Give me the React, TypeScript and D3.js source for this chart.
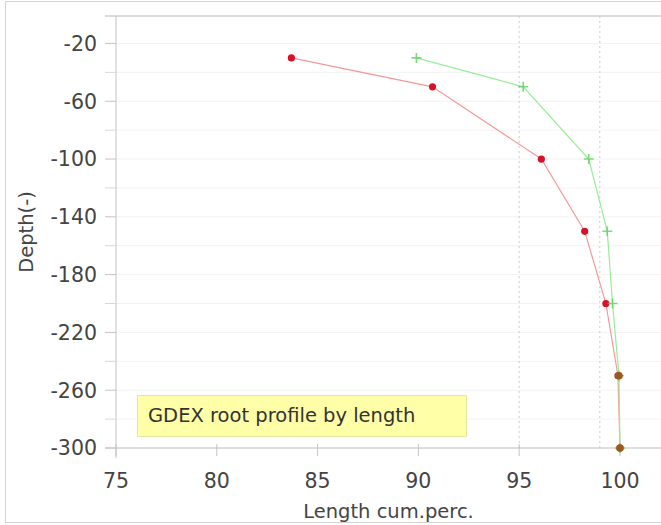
import React from "react";
import * as d3 from "d3";

const depths = [-30, -50, -100, -150, -200, -250, -300];
const seriesRed = [83.7, 90.7, 96.1, 98.25, 99.3, 99.9, 100];
const seriesGreen = [89.9, 95.2, 98.45, 99.37, 99.63, 99.95, 100];
const xTicks = [75, 80, 85, 90, 95, 100];
const yMajorTicks = [-20, -60, -100, -140, -180, -220, -260, -300];
const yMinorTicks = [-40, -80, -120, -160, -200, -240, -280];
const refLines = [95, 99];
const legendLabel = "GDEX root profile by length";
const xTitle = "Length cum.perc.";
const yTitle = "Depth(-)";

const W = 661;
const H = 525;
const FONT = "'DejaVu Sans', Verdana, sans-serif";

export default function App() {
  const x = d3.scaleLinear().domain([75, 102]).range([116, 660.3]);
  const y = d3.scaleLinear().domain([-300, -1]).range([448, 16]);
  const redData = depths.map((d, i) => ({ x: seriesRed[i], y: d }));
  const greenData = depths.map((d, i) => ({ x: seriesGreen[i], y: d }));
  const line = d3
    .line<{ x: number; y: number }>()
    .x((d) => x(d.x))
    .y((d) => y(d.y));
  const gridYs = d3.range(-300, 0, 20);
  const left = x.range()[0];
  const right = W;
  const top = y.range()[1];
  const bottom = y.range()[0];

  return (
    <svg
      width={W}
      height={H}
      style={{ position: "absolute", left: 0, top: 0, background: "#fff" }}
      fontFamily={FONT}
    >
      <rect x={0} y={0} width={W} height={H} fill="#fff" />
      <rect x={5.5} y={1.5} width={W + 10} height={H - 4} fill="none" stroke="#d4d4d4" />
      {/* grid */}
      {gridYs.map((g) => (
        <line key={"g" + g} x1={left} x2={right} y1={y(g)} y2={y(g)} stroke="#f3f3f3" />
      ))}
      {refLines.map((r) => (
        <line
          key={"r" + r}
          x1={x(r)}
          x2={x(r)}
          y1={top}
          y2={bottom}
          stroke="#cccccc"
          strokeDasharray="2,3"
        />
      ))}
      {/* frame lines */}
      <line x1={105} x2={right} y1={top} y2={top} stroke="#cfcfcf" strokeWidth={1.5} />
      <line x1={left} x2={left} y1={top} y2={bottom + 10} stroke="#c4c4c4" />
      <line x1={105} x2={right} y1={bottom} y2={bottom} stroke="#c4c4c4" strokeWidth={1.2} />
      {/* y ticks */}
      {yMajorTicks.map((t) => (
        <g key={"ym" + t}>
          <line x1={105} x2={left} y1={y(t)} y2={y(t)} stroke="#c4c4c4" />
          <text
            x={97}
            y={y(t)}
            dy="0.36em"
            textAnchor="end"
            fontSize={20.5}
            fill="#444"
          >
            {t}
          </text>
        </g>
      ))}
      {yMinorTicks.map((t) => (
        <line key={"yn" + t} x1={105} x2={left} y1={y(t)} y2={y(t)} stroke="#d8d8d8" />
      ))}
      {/* x ticks */}
      {xTicks.map((t) => (
        <g key={"x" + t}>
          <line x1={x(t)} x2={x(t)} y1={bottom - 4} y2={bottom + 8} stroke="#c4c4c4" />
          <text
            x={x(t)}
            y={488}
            textAnchor="middle"
            fontSize={20.5}
            fill="#444"
          >
            {t}
          </text>
        </g>
      ))}
      {/* axis titles */}
      <text
        x={(left + W) / 2}
        y={518}
        textAnchor="middle"
        fontSize={19.5}
        fill="#444"
      >
        {xTitle}
      </text>
      <text
        transform={`translate(33,${(top + bottom) / 2}) rotate(-90)`}
        textAnchor="middle"
        fontSize={19.5}
        fill="#444"
      >
        {yTitle}
      </text>
      {/* series */}
      <path d={line(redData) || ""} fill="none" stroke="#f29a9a" strokeWidth={1.2} />
      <path d={line(greenData) || ""} fill="none" stroke="#98ec98" strokeWidth={1.2} />
      {redData.map((d, i) => (
        <circle key={"rc" + i} cx={x(d.x)} cy={y(d.y)} r={3.6} fill="#d8102a" />
      ))}
      {greenData.map((d, i) => (
        <path
          key={"gp" + i}
          d={`M${x(d.x) - 5},${y(d.y)}H${x(d.x) + 5}M${x(d.x)},${y(d.y) - 5}V${y(d.y) + 5}`}
          stroke="#55cc55"
          strokeOpacity={0.75}
          strokeWidth={1.6}
          fill="none"
        />
      ))}
      {greenData.slice(5).map((d, i) => (
        <circle key={"ov" + i} cx={x(d.x)} cy={y(d.y)} r={3.8} fill="#9a5a1e" />
      ))}
      {/* legend */}
      <rect x={137.5} y={395.5} width={329} height={41} fill="#ffffa8" stroke="#e6e6a0" />
      <text x={148} y={422} fontSize={19.5} fill="#333">
        {legendLabel}
      </text>
    </svg>
  );
}
